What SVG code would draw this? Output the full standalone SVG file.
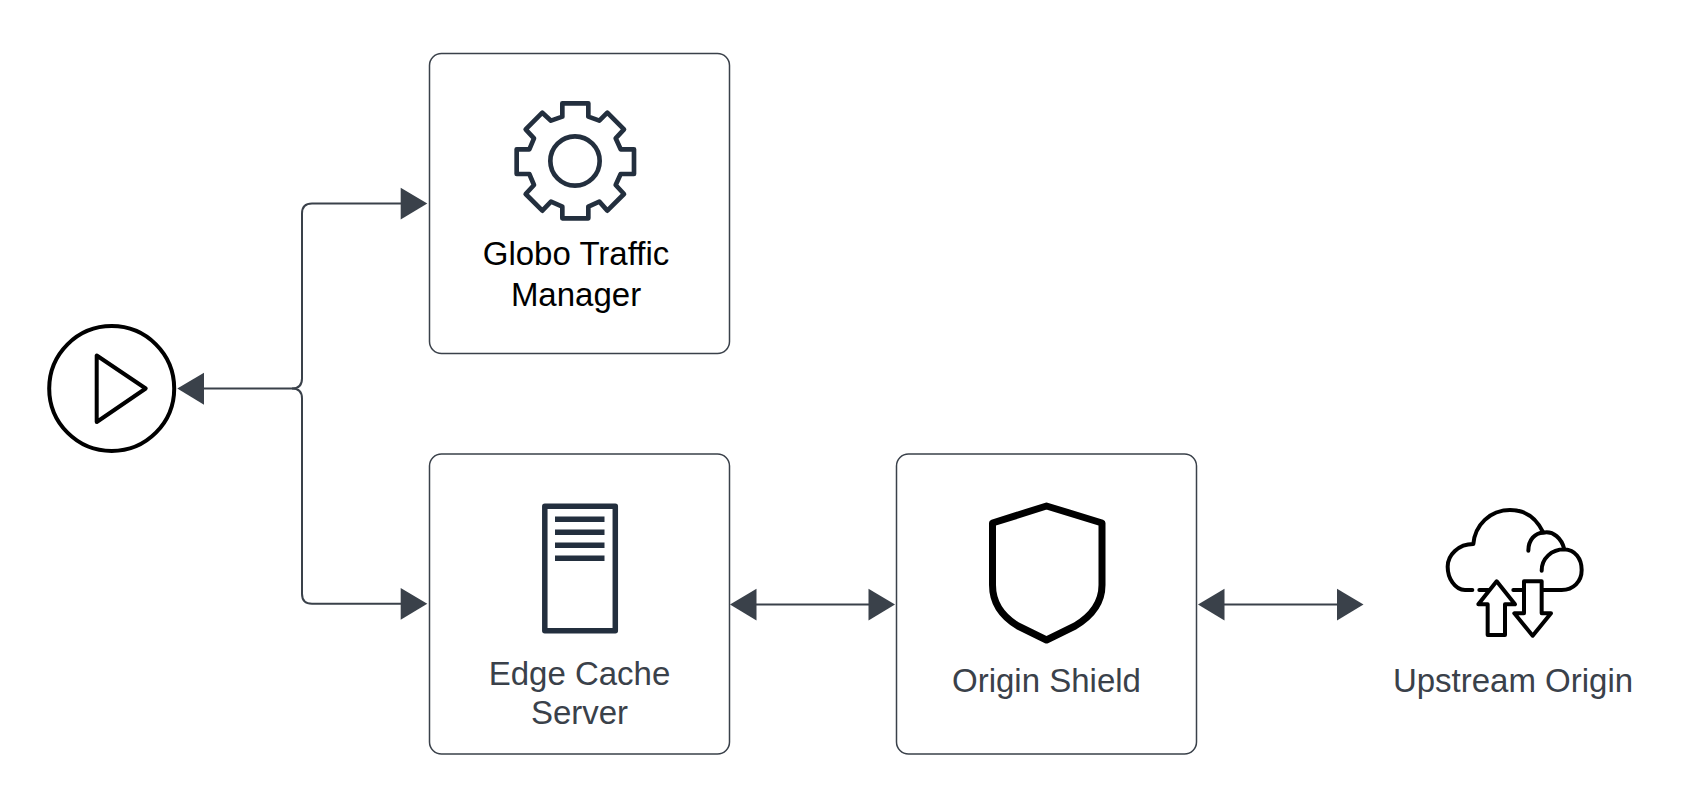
<svg xmlns="http://www.w3.org/2000/svg" width="1695" height="806" viewBox="0 0 1695 806">
<style>
.box{fill:#fff;stroke:#3a414a;stroke-width:1.5}
.label{font-family:"Liberation Sans",Arial,sans-serif;font-size:33px;text-anchor:middle;fill:#3a414a}
.dark{fill:#000}
.wire{fill:none;stroke:#3a414a;stroke-width:2}
.head{fill:#3a414a}
.ink{fill:none;stroke:#000;stroke-linejoin:round;stroke-linecap:round}
.navy{fill:none;stroke:#232f3e;stroke-linejoin:round}
</style>
<rect width="1695" height="806" fill="#fff"/>
<g id="connectors">
<path class="wire" d="M200 388.500H292Q302 388.500 302 378.500V213.500Q302 203.500 312 203.500H405"/>
<path class="wire" d="M292 388.500Q302 388.500 302 398.500V593.700Q302 603.700 312 603.700H405"/>
<polygon class="head" points="177.300,388.500 204,372.700 204,404.700"/>
<polygon class="head" points="427.300,203.500 400.700,187.700 400.700,219.500"/>
<polygon class="head" points="427.300,603.700 400.700,587.900 400.700,619.700"/>
<path class="wire" d="M750 604.500H875"/>
<polygon class="head" points="730,604.500 756.500,588.700 756.500,620.500"/>
<polygon class="head" points="895,604.500 868.500,588.700 868.500,620.500"/>
<path class="wire" d="M1218 604.500H1345"/>
<polygon class="head" points="1198,604.500 1224.500,588.700 1224.500,620.500"/>
<polygon class="head" points="1363.500,604.500 1337,588.700 1337,620.500"/>
</g>
<g id="client">
<circle class="ink" cx="111.700" cy="388.500" r="62.500" stroke-width="4"/>
<path class="ink" stroke-width="4" d="M96.700 355.500V422L145.700 388.500Z"/>
</g>
<g id="traffic-manager">
<rect class="box" x="429.500" y="53.500" width="300" height="300" rx="12"/>
<g transform="translate(470 80) scale(.33333)">
<path class="navy" stroke-width="14" d="M277 70H355V110L388 122L412 98L462 148L437 175L452 208H492V282H452L437 315L462 342L412 392L388 365L355 380V415H277V380L243 365L217 392L167 342L192 315L178 282H140V208H178L192 175L167 148L217 98L243 122L277 110Z"/>
<circle class="navy" stroke-width="14" cx="315" cy="243" r="74"/>
</g>
<text class="label dark" x="576" y="265">Globo Traffic</text>
<text class="label dark" x="576" y="306">Manager</text>
</g>
<g id="edge-cache">
<rect class="box" x="429.500" y="454" width="300" height="300" rx="12"/>
<rect class="navy" stroke-width="5.500" x="544.800" y="506.300" width="70.500" height="124.500"/>
<path fill="none" stroke="#232f3e" stroke-width="5.500" d="M555 519.300H604.500M555 532.300H604.500M555 545.300H604.500M555 558.300H604.500"/>
<text class="label" x="579.500" y="685">Edge Cache</text>
<text class="label" x="579.500" y="724">Server</text>
</g>
<g id="origin-shield">
<rect class="box" x="896.500" y="454" width="300" height="300" rx="12"/>
<path class="ink" stroke-width="7" d="M992.500 523L1046.500 506L1102 523V585C1102 605 1090 617 1075 626L1046.500 640L1018 626C1003 617 992.500 605 992.500 585Z"/>
<text class="label" x="1046.500" y="692">Origin Shield</text>
</g>
<g id="upstream-origin">
<g transform="translate(1420 490) scale(.33333)">
<path class="ink" stroke-width="12" d="M157 300H135C105 300 83 265 83 230C83 195 115 162 160 162C165 105 210 60 270 60C315 60 350 85 370 128C400 122 425 145 433 178C465 180 485 205 485 240C485 275 460 300 425 300H370M178 300H205M280 300H310M325 182C325 150 345 128 370 128M365 242C365 205 395 178 433 178"/>
<path class="ink" stroke-width="12" d="M230 274L285 343H255V435H203V343H175Z"/>
<path class="ink" stroke-width="12" d="M312 274H365V370H393L338 437L283 370H312Z"/>
</g>
<text class="label" x="1513" y="692">Upstream Origin</text>
</g>
</svg>
